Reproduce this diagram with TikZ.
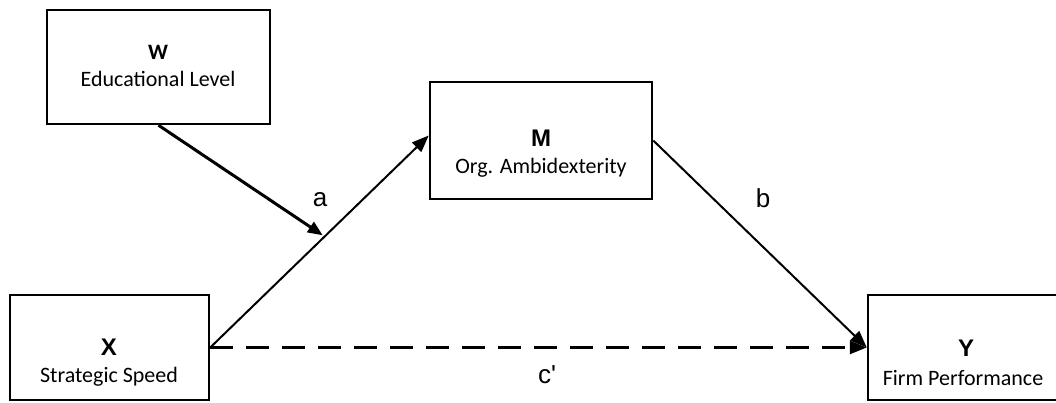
\documentclass[tikz,border=0pt]{standalone}
\usepackage{fontspec}
\setmainfont{Carlito}
\newfontfamily\arialfont{Liberation Sans}
\usetikzlibrary{positioning,arrows.meta,calc}

\begin{document}
\begin{tikzpicture}[x=1pt,y=-1pt,
    box/.style={draw,line width=2.5pt,inner sep=0pt},
    head/.style={font=\arialfont\bfseries\fontsize{24}{28}\selectfont,inner sep=0pt},
    sub/.style={font=\fontsize{22}{26}\selectfont,inner sep=0pt},
    path label/.style={font=\arialfont\fontsize{26}{30}\selectfont,inner sep=0pt},
    link/.style={line width=2pt,-{Triangle[length=17pt,width=13pt]}}]
    \useasboundingbox (0,0) rectangle (1056,403);
    \clip (0,0) rectangle (1056,403);
    % variables
    \node[box,minimum width=223pt,minimum height=114pt] (W) at (158.5,67) {};
    \node[box,minimum width=222pt,minimum height=117pt] (M) at (541,140.5) {};
    \node[box,minimum width=199pt,minimum height=105pt] (X) at (109.5,347.5) {};
    \node[box,minimum width=196pt,minimum height=105pt] (Y) at (966,347.5) {};
    \node[head,font=\bfseries\fontsize{22}{26}\selectfont] (Wl) at (158,52) {W};
    \node[sub] (Wt) at (158,79) {Educational Level};
    \node[head] (Ml) at (541,138) {M};
    \node[sub] (Mt) at (541,168) {Org. Ambidexterity};
    \node[head] (Xl) at (109,347) {X};
    \node[sub] (Xt) at (109,377) {Strategic Speed};
    \node[head] (Yl) at (966,348) {Y};
    \node[sub] (Yt) at (963,378) {Firm Performance};
    % paths
    \draw[link] (X.east) -- ($(M.west)+(0,-5)$);
    \draw[link] (M.east) -- (Y.west);
    \draw[link,line width=2.5pt,dash pattern=on 23pt off 13pt] (X.east) -- (Y.west);
    \coordinate (mod) at ($(X.east)!0.515!($(M.west)+(0,-5)$)$);
    \draw[line width=3pt,-{Triangle[length=15pt,width=12pt]}] (W.south) -- ($(mod)+(0,-3)$);
    \node[path label] (a) at (320,200) {a};
    \node[path label] (b) at (763,198) {b};
    \node[path label] (c) at (547,375) {c'};
\end{tikzpicture}
\end{document}
